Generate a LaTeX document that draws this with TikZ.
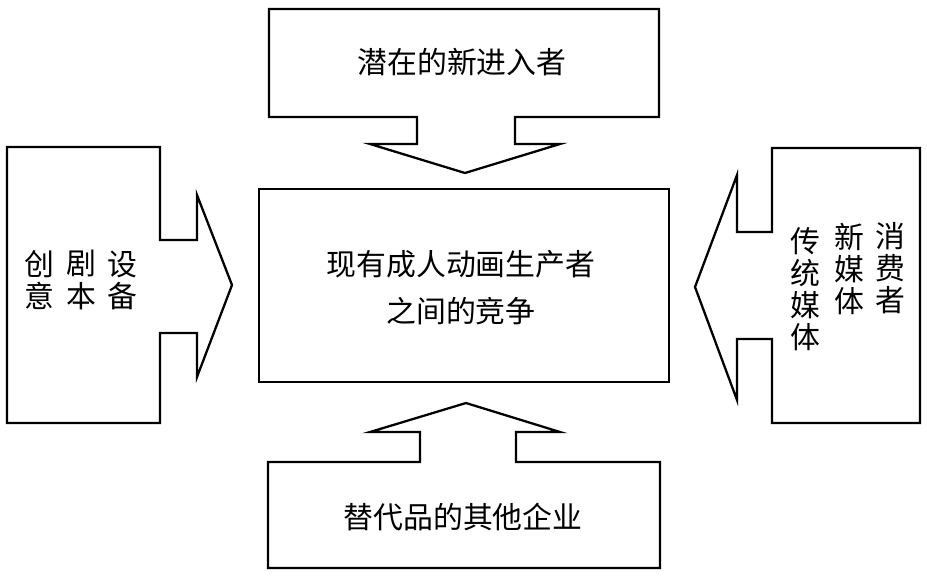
\documentclass[tikz,border=0pt]{standalone}
\usepackage{fontspec}
\newfontfamily\cjk{Noto Sans CJK SC}
\usepackage{tikz}
\usetikzlibrary{positioning}

\begin{document}
\begin{tikzpicture}[x=0.02cm, y=-0.02cm, line width=1.3pt, line join=miter,
    lbl/.style={font=\cjk\fontsize{17}{18.3}\selectfont, align=center, inner sep=0pt},
    force/.style={draw, black}]
%
    \useasboundingbox (0,0) rectangle (927,576);
%
    % rivalry in the middle
    \node[force, minimum width=8.2cm, minimum height=3.86cm, inner sep=0pt] (rival) at (464,285.5) {};
    \node[lbl, font=\cjk\fontsize{17}{26.7}\selectfont] (rivaltxt) at (461,288) {现有成人动画生产者\\之间的竞争};
%
    % new entrants, from above
    \draw[force] (417,117) -- (269,117) -- (269,9) -- (659,9) -- (659,117) -- (515,117)
        -- (515,144) -- (560,144) -- (465,173) -- (370,144) -- (417,144) -- cycle;
    \node[lbl] (entrant) at (462,62) {潜在的新进入者};
%
    % substitutes, from below
    \draw[force] (420,462) -- (268,462) -- (268,568) -- (660,568) -- (660,462) -- (516,462)
        -- (516,432) -- (560,432) -- (466,403) -- (370,432) -- (420,432) -- cycle;
    \node[lbl] (substitute) at (463,517) {替代品的其他企业};
%
    % suppliers, from the left
    \draw[force] (160,240) -- (160,147) -- (7,147) -- (7,423) -- (160,423) -- (160,333)
        -- (197,333) -- (197,377) -- (232,285) -- (197,195) -- (197,240) -- cycle;
    \node[lbl] (idea)   at (39,280)  {创\\意};
    \node[lbl] (script) at (81,280)  {剧\\本};
    \node[lbl] (gear)   at (122,280) {设\\备};
%
    % buyers, from the right
    \draw[force] (772,232) -- (772,148) -- (920,148) -- (920,423) -- (772,423) -- (772,339)
        -- (737,339) -- (737,400) -- (695,287) -- (737,175) -- (737,232) -- cycle;
    \node[lbl, anchor=north] (consumer) at (890,221) {消\\费\\者};
    \node[lbl, anchor=north] (newmedia) at (849,222) {新\\媒\\体};
    \node[lbl, anchor=north] (oldmedia) at (805,226) {传\\统\\媒\\体};
  \end{tikzpicture}
\end{document}
